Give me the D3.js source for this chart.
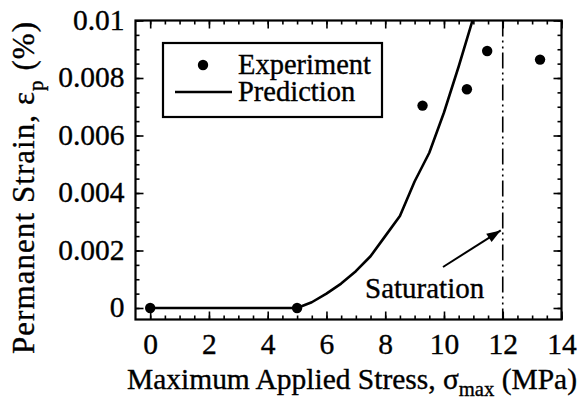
<!DOCTYPE html>
<html>
<head>
<meta charset="utf-8">
<script src="https://cdn.jsdelivr.net/npm/d3@7"></script>
<style>
  html, body { margin: 0; padding: 0; background: #fff; }
  svg { display: block; }
</style>
</head>
<body>
<svg id="chart" width="578" height="402"></svg>
<script>
// Measured permanent strain vs. maximum applied stress
const expStress = [0, 5, 9.27, 10.78, 11.47, 13.27];
const expStrain = [0, 0, 0.00704, 0.00761, 0.00894, 0.00864];

// Model prediction
const predStress = [0, 5, 5.5, 6, 6.5, 7, 7.5, 8, 8.5, 9, 9.5, 10, 10.5, 11];
const predStrain = [0, 0, 0.0002, 0.0005, 0.00085, 0.00128, 0.0018, 0.0025, 0.0032, 0.0044, 0.0054, 0.0068, 0.0084, 0.0101];

// Saturation stress
const saturationStress = 12;
const saturationArrowTo = 0.0027;

const xTicks = [0, 2, 4, 6, 8, 10, 12, 14];
const yTicks = [0, 0.002, 0.004, 0.006, 0.008, 0.01];
const yTickLabels = ["0", "0.002", "0.004", "0.006", "0.008", "0.01"];

const FONT = '"Liberation Serif", "Times New Roman", Tinos';
const FS = 29.5;

function serif(sel, size) {
  return sel.style("font-family", FONT).style("font-size", size + "px")
    .style("fill", "#000").style("stroke", "#000").style("stroke-width", "0.35px");
}

const svg = d3.select("#chart");
const L = 135.5, R = 561.5, T = 20.5, B = 319.5;

const x = d3.scaleLinear().domain([-0.5, 14]).range([L, R]);
const y = d3.scaleLinear().domain([-0.0004, 0.01]).range([B, T]);

// clip region for the plot area
svg.append("defs").append("clipPath").attr("id", "plotclip")
  .append("rect").attr("x", L).attr("y", T).attr("width", R - L).attr("height", B - T);

// Axes with inward ticks on all four sides
const xMinor = d3.range(0, 14.01, 0.5);
const yMinor = d3.range(0, 0.01001, 0.0005);

function tickAxis(gen, sc, vals, size, transform) {
  const g = svg.append("g").attr("transform", transform)
    .call(gen(sc).tickValues(vals).tickSize(size).tickFormat(""));
  g.select(".domain").remove();
  g.selectAll(".tick line").attr("stroke", "#000").attr("stroke-width", 1.6);
  return g;
}
tickAxis(d3.axisTop, x, xMinor, 4, `translate(0,${B})`);
tickAxis(d3.axisTop, x, xTicks, 8, `translate(0,${B})`);
tickAxis(d3.axisBottom, x, xMinor, 4, `translate(0,${T})`);
tickAxis(d3.axisBottom, x, xTicks, 8, `translate(0,${T})`);
tickAxis(d3.axisRight, y, yMinor, 4, `translate(${L},0)`);
tickAxis(d3.axisRight, y, yTicks, 8, `translate(${L},0)`);
tickAxis(d3.axisLeft, y, yMinor, 4, `translate(${R},0)`);
tickAxis(d3.axisLeft, y, yTicks, 8, `translate(${R},0)`);

// frame
svg.append("rect").attr("x", L).attr("y", T).attr("width", R - L).attr("height", B - T)
  .attr("fill", "none").attr("stroke", "#000").attr("stroke-width", 2.2);

// tick labels
const xLab = svg.append("g").attr("transform", `translate(0,${B})`)
  .call(d3.axisBottom(x).tickValues(xTicks).tickSize(0).tickPadding(0).tickFormat(d3.format("d")));
xLab.select(".domain").remove();
serif(xLab.selectAll("text"), FS).attr("dy", null).attr("y", 34);

const yLab = svg.append("g").attr("transform", `translate(${L},0)`)
  .call(d3.axisLeft(y).tickValues(yTicks).tickSize(0).tickPadding(0)
    .tickFormat((d, i) => yTickLabels[i]));
yLab.select(".domain").remove();
serif(yLab.selectAll("text"), FS).attr("x", -11).attr("dy", "0.3em");

// axis titles, stretched to their full extent
const xt = serif(svg.append("text"), FS).attr("x", 127).attr("y", 389)
  .attr("textLength", 450).attr("lengthAdjust", "spacing");
xt.append("tspan").text("Maximum Applied Stress, σ");
xt.append("tspan").style("font-size", (FS * 0.7) + "px").attr("dy", 7).text("max");
xt.append("tspan").attr("dy", -7).text(" (MPa)");

const yt = serif(svg.append("text"), 31).attr("transform", "translate(34,354) rotate(-90)")
  .attr("x", 0).attr("y", 0)
  .attr("textLength", 332).attr("lengthAdjust", "spacing");
yt.append("tspan").text("Permanent Strain, ε");
yt.append("tspan").style("font-size", "21px").attr("dy", 9).text("p");
yt.append("tspan").attr("dy", -9).text(" (%)");

// saturation line
svg.append("line")
  .attr("x1", x(saturationStress)).attr("x2", x(saturationStress))
  .attr("y1", T).attr("y2", B)
  .attr("stroke", "#000").attr("stroke-width", 1.6)
  .attr("stroke-dasharray", "16,4,2,4,2,4");

// prediction curve
const line = d3.line().x(d => x(d[0])).y(d => y(d[1]));
svg.append("path")
  .datum(predStress.map((s, i) => [s, predStrain[i]]))
  .attr("clip-path", "url(#plotclip)")
  .attr("d", line)
  .attr("fill", "none").attr("stroke", "#000").attr("stroke-width", 2.6)
  .attr("stroke-linejoin", "round");

// experiment points
svg.append("g").selectAll("circle")
  .data(expStress.map((s, i) => [s, expStrain[i]]))
  .join("circle")
  .attr("cx", d => x(d[0])).attr("cy", d => y(d[1])).attr("r", 5.2)
  .attr("fill", "#000");

// saturation annotation with arrow
const ax0 = 443, ay0 = 267;
const ax1 = x(saturationStress) - 2, ay1 = y(saturationArrowTo);
svg.append("line").attr("x1", ax0).attr("y1", ay0).attr("x2", ax1).attr("y2", ay1)
  .attr("stroke", "#000").attr("stroke-width", 2);
const ang = Math.atan2(ay1 - ay0, ax1 - ax0);
const hl = 14, hw = 5;
const bx = ax1 - hl * Math.cos(ang), by = ay1 - hl * Math.sin(ang);
svg.append("path")
  .attr("d", `M${ax1},${ay1} L${bx + hw * Math.sin(ang)},${by - hw * Math.cos(ang)} L${bx - hw * Math.sin(ang)},${by + hw * Math.cos(ang)} Z`)
  .attr("fill", "#000");
serif(svg.append("text"), 29).attr("x", 365).attr("y", 298).text("Saturation");

// legend
const lg = svg.append("g");
lg.append("rect").attr("x", 163).attr("y", 43).attr("width", 219).attr("height", 74)
  .attr("fill", "#fff").attr("stroke", "#000").attr("stroke-width", 2.2);
lg.append("circle").attr("cx", 203).attr("cy", 65).attr("r", 5.2).attr("fill", "#000");
lg.append("line").attr("x1", 175).attr("x2", 232).attr("y1", 92).attr("y2", 92)
  .attr("stroke", "#000").attr("stroke-width", 2.6);
serif(lg.append("text"), 28.5).attr("x", 238).attr("y", 74).text("Experiment");
serif(lg.append("text"), 28.5).attr("x", 238).attr("y", 101).text("Prediction");
</script>
</body>
</html>
